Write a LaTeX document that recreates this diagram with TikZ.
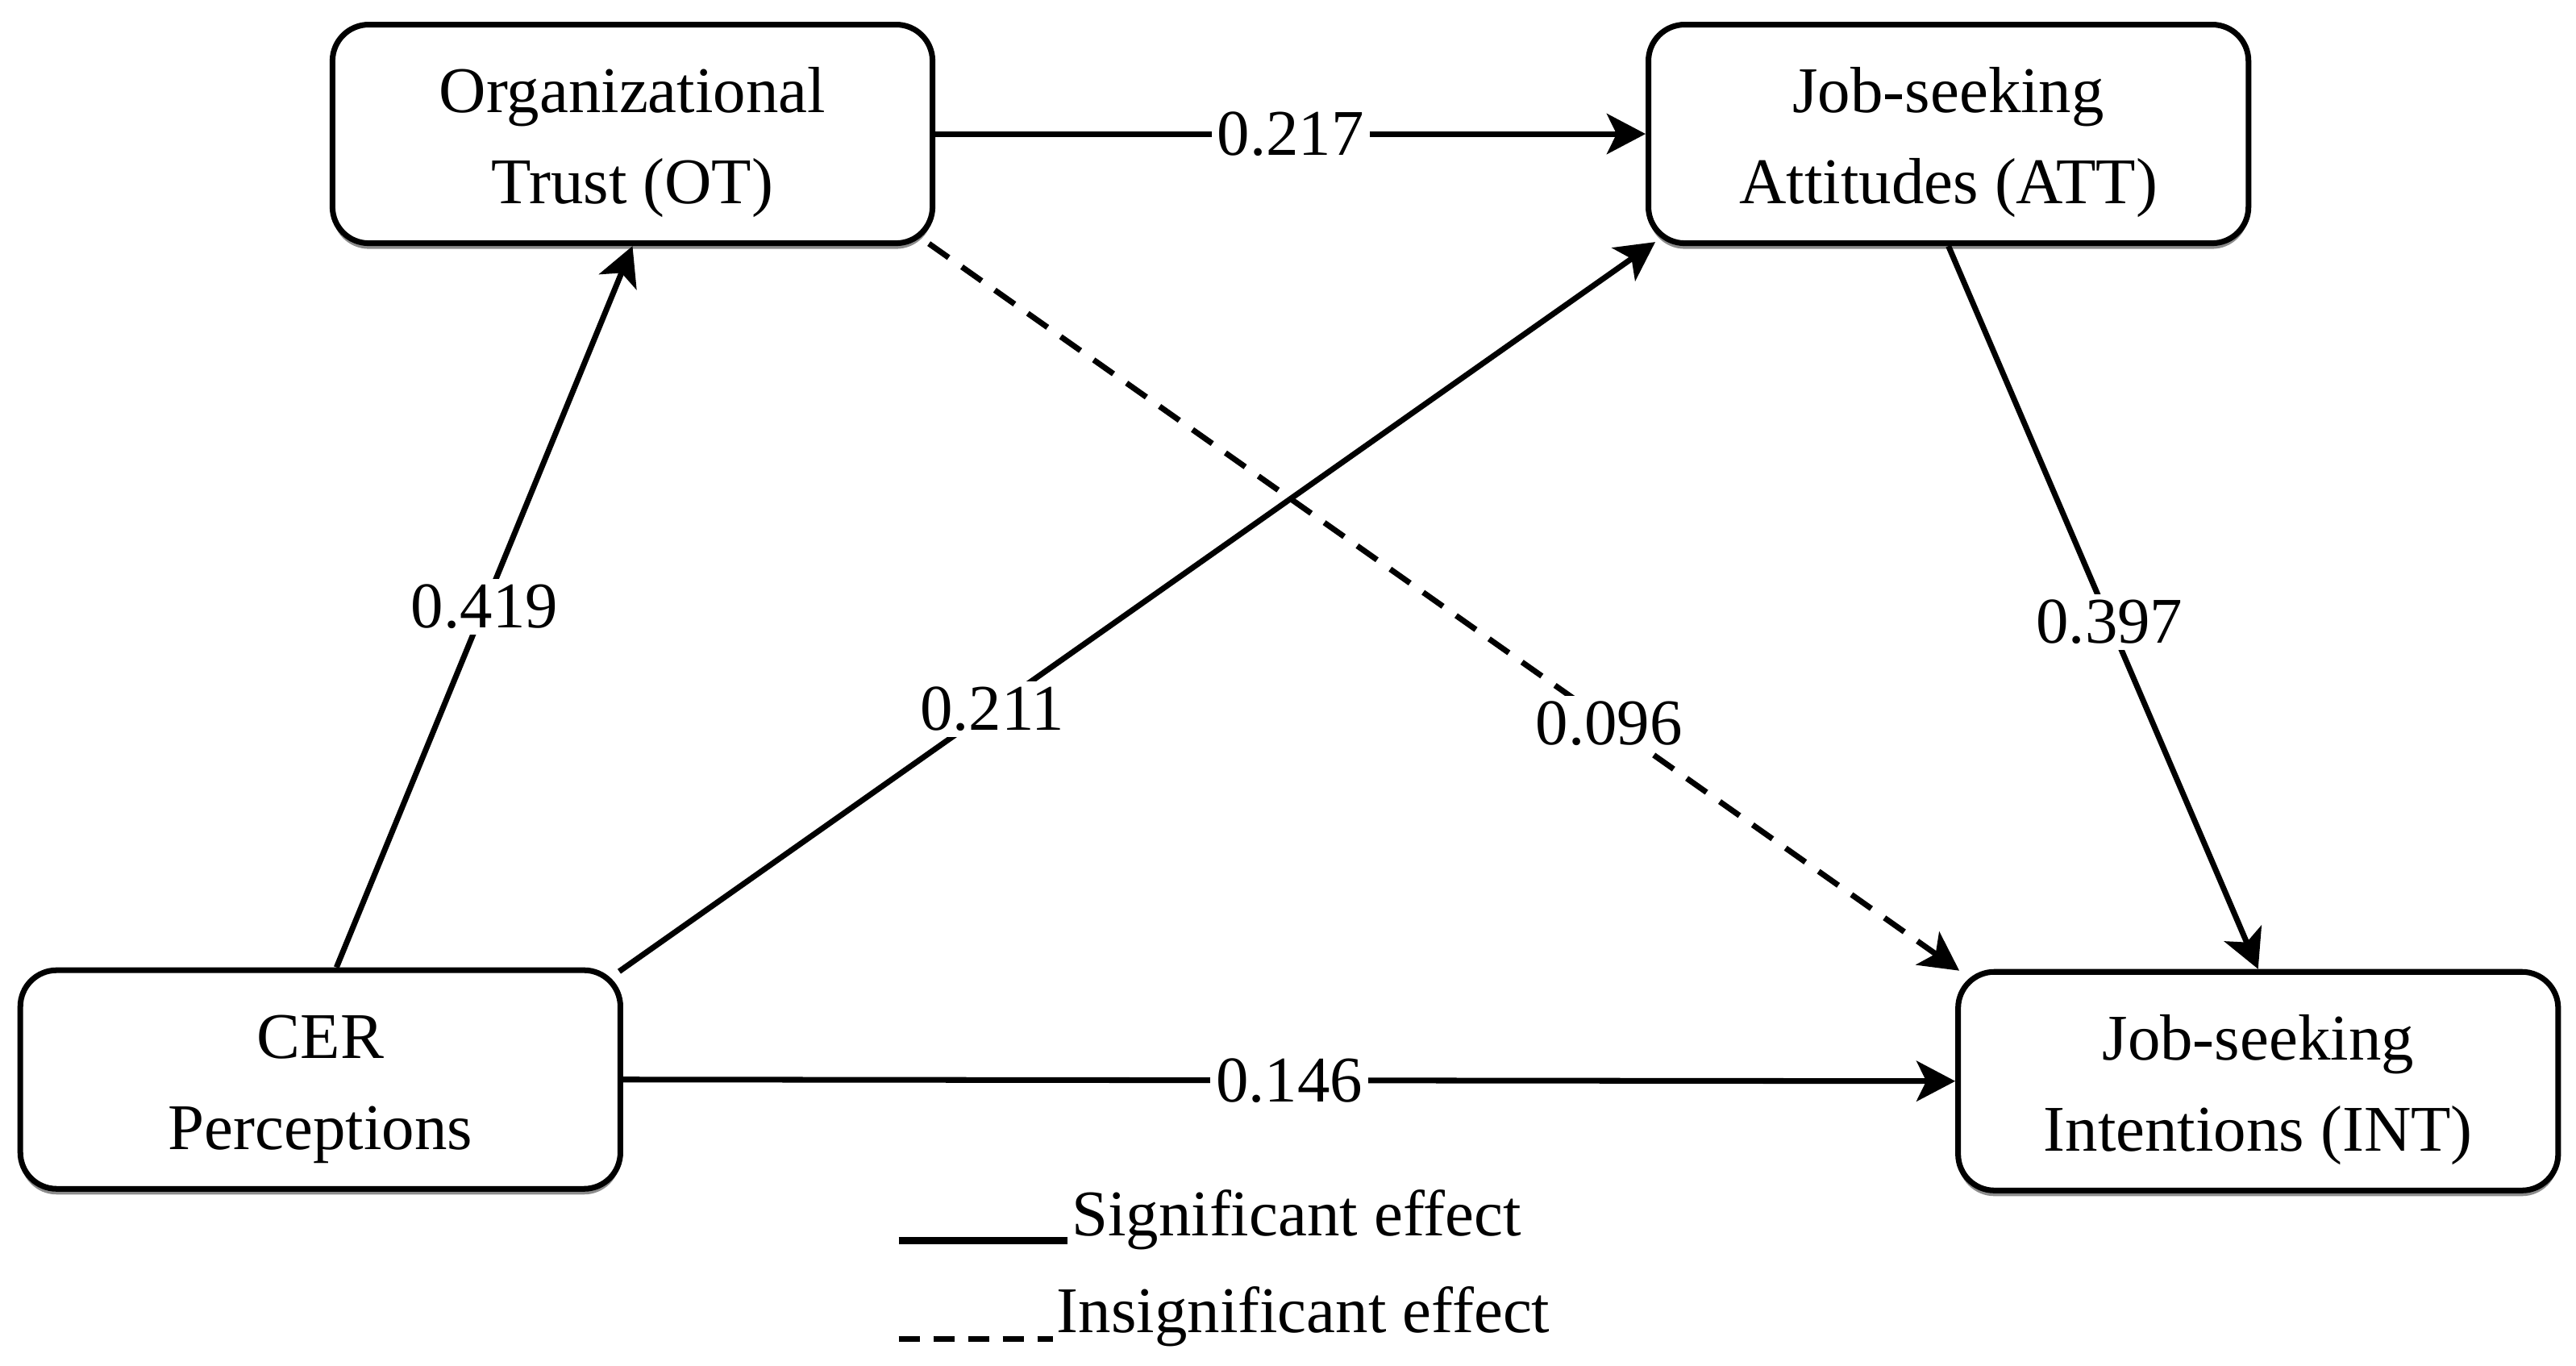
\documentclass[tikz,border=0pt]{standalone}
\usepackage{fontspec}
\setmainfont{Liberation Serif}
\usetikzlibrary{arrows.meta,shadows}
\newcommand{\topstrut}{\rule{0pt}{22pt}}
\begin{document}
\begin{tikzpicture}[x=0.020376cm,y=-0.020376cm,
  box/.style={draw=black,line width=2pt,rounded corners=0.45cm,fill=white,
    minimum width=7.44cm,minimum height=2.71cm,align=center,
    font=\fontsize{23}{32}\selectfont,
    drop shadow={shadow xshift=0pt,shadow yshift=-0.07cm,fill=black!45,opacity=1}},
  conn/.style={line width=2pt,-{Stealth[length=0.48cm,width=0.5cm,inset=0.12cm]}},
  insig/.style={conn,dash pattern=on 0.3cm off 0.2cm},
  lbl/.style={fill=white,inner sep=2pt,font=\fontsize{23}{28}\selectfont},
  legtext/.style={anchor=base west,inner sep=0pt,font=\fontsize{23}{28}\selectfont}]
\useasboundingbox (0,0) rectangle (1568,831);
\node[box] (OT) at (385,81.5) {\topstrut Organizational\\Trust (OT)};
\node[box] (ATT) at (1186,81.5) {\topstrut Job-seeking\\Attitudes (ATT)};
\node[box] (CER) at (195,657) {\topstrut CER\\Perceptions};
\node[box] (INT) at (1374.5,658) {\topstrut Job-seeking\\Intentions (INT)};

\draw[conn] (OT.east) -- node[lbl] {0.217} (ATT.west);
\draw[conn] ([xshift=0.2cm]CER.north) -- node[lbl,pos=0.5] {0.419} (OT.south);
\draw[conn] ([xshift=-0.05cm,yshift=-0.05cm]CER.north east) -- node[lbl,pos=0.36] {0.211} ([xshift=0.12cm,yshift=0.05cm]ATT.south west);
\draw[insig] ([xshift=-0.08cm,yshift=0.03cm]OT.south east) -- node[lbl,pos=0.66] {0.096} ([xshift=0.05cm,yshift=-0.02cm]INT.north west);
\draw[conn] (ATT.south) -- node[lbl,pos=0.52] {0.397} (INT.north);
\draw[conn] (CER.east) -- node[lbl] {0.146} (INT.west);

\coordinate (s1) at (547,755);
\coordinate (s2) at (650,755);
\coordinate (d1) at (547,815);
\coordinate (d2) at (641,815);
\draw[line width=2.8pt] (s1) -- (s2);
\draw[line width=2pt,dash pattern=on 0.26cm off 0.17cm] (d1) -- (d2);
\node[legtext] (sigtxt) at (652,752) {Significant effect};
\node[legtext] (insigtxt) at (643,811) {Insignificant effect};
\end{tikzpicture}
\end{document}
